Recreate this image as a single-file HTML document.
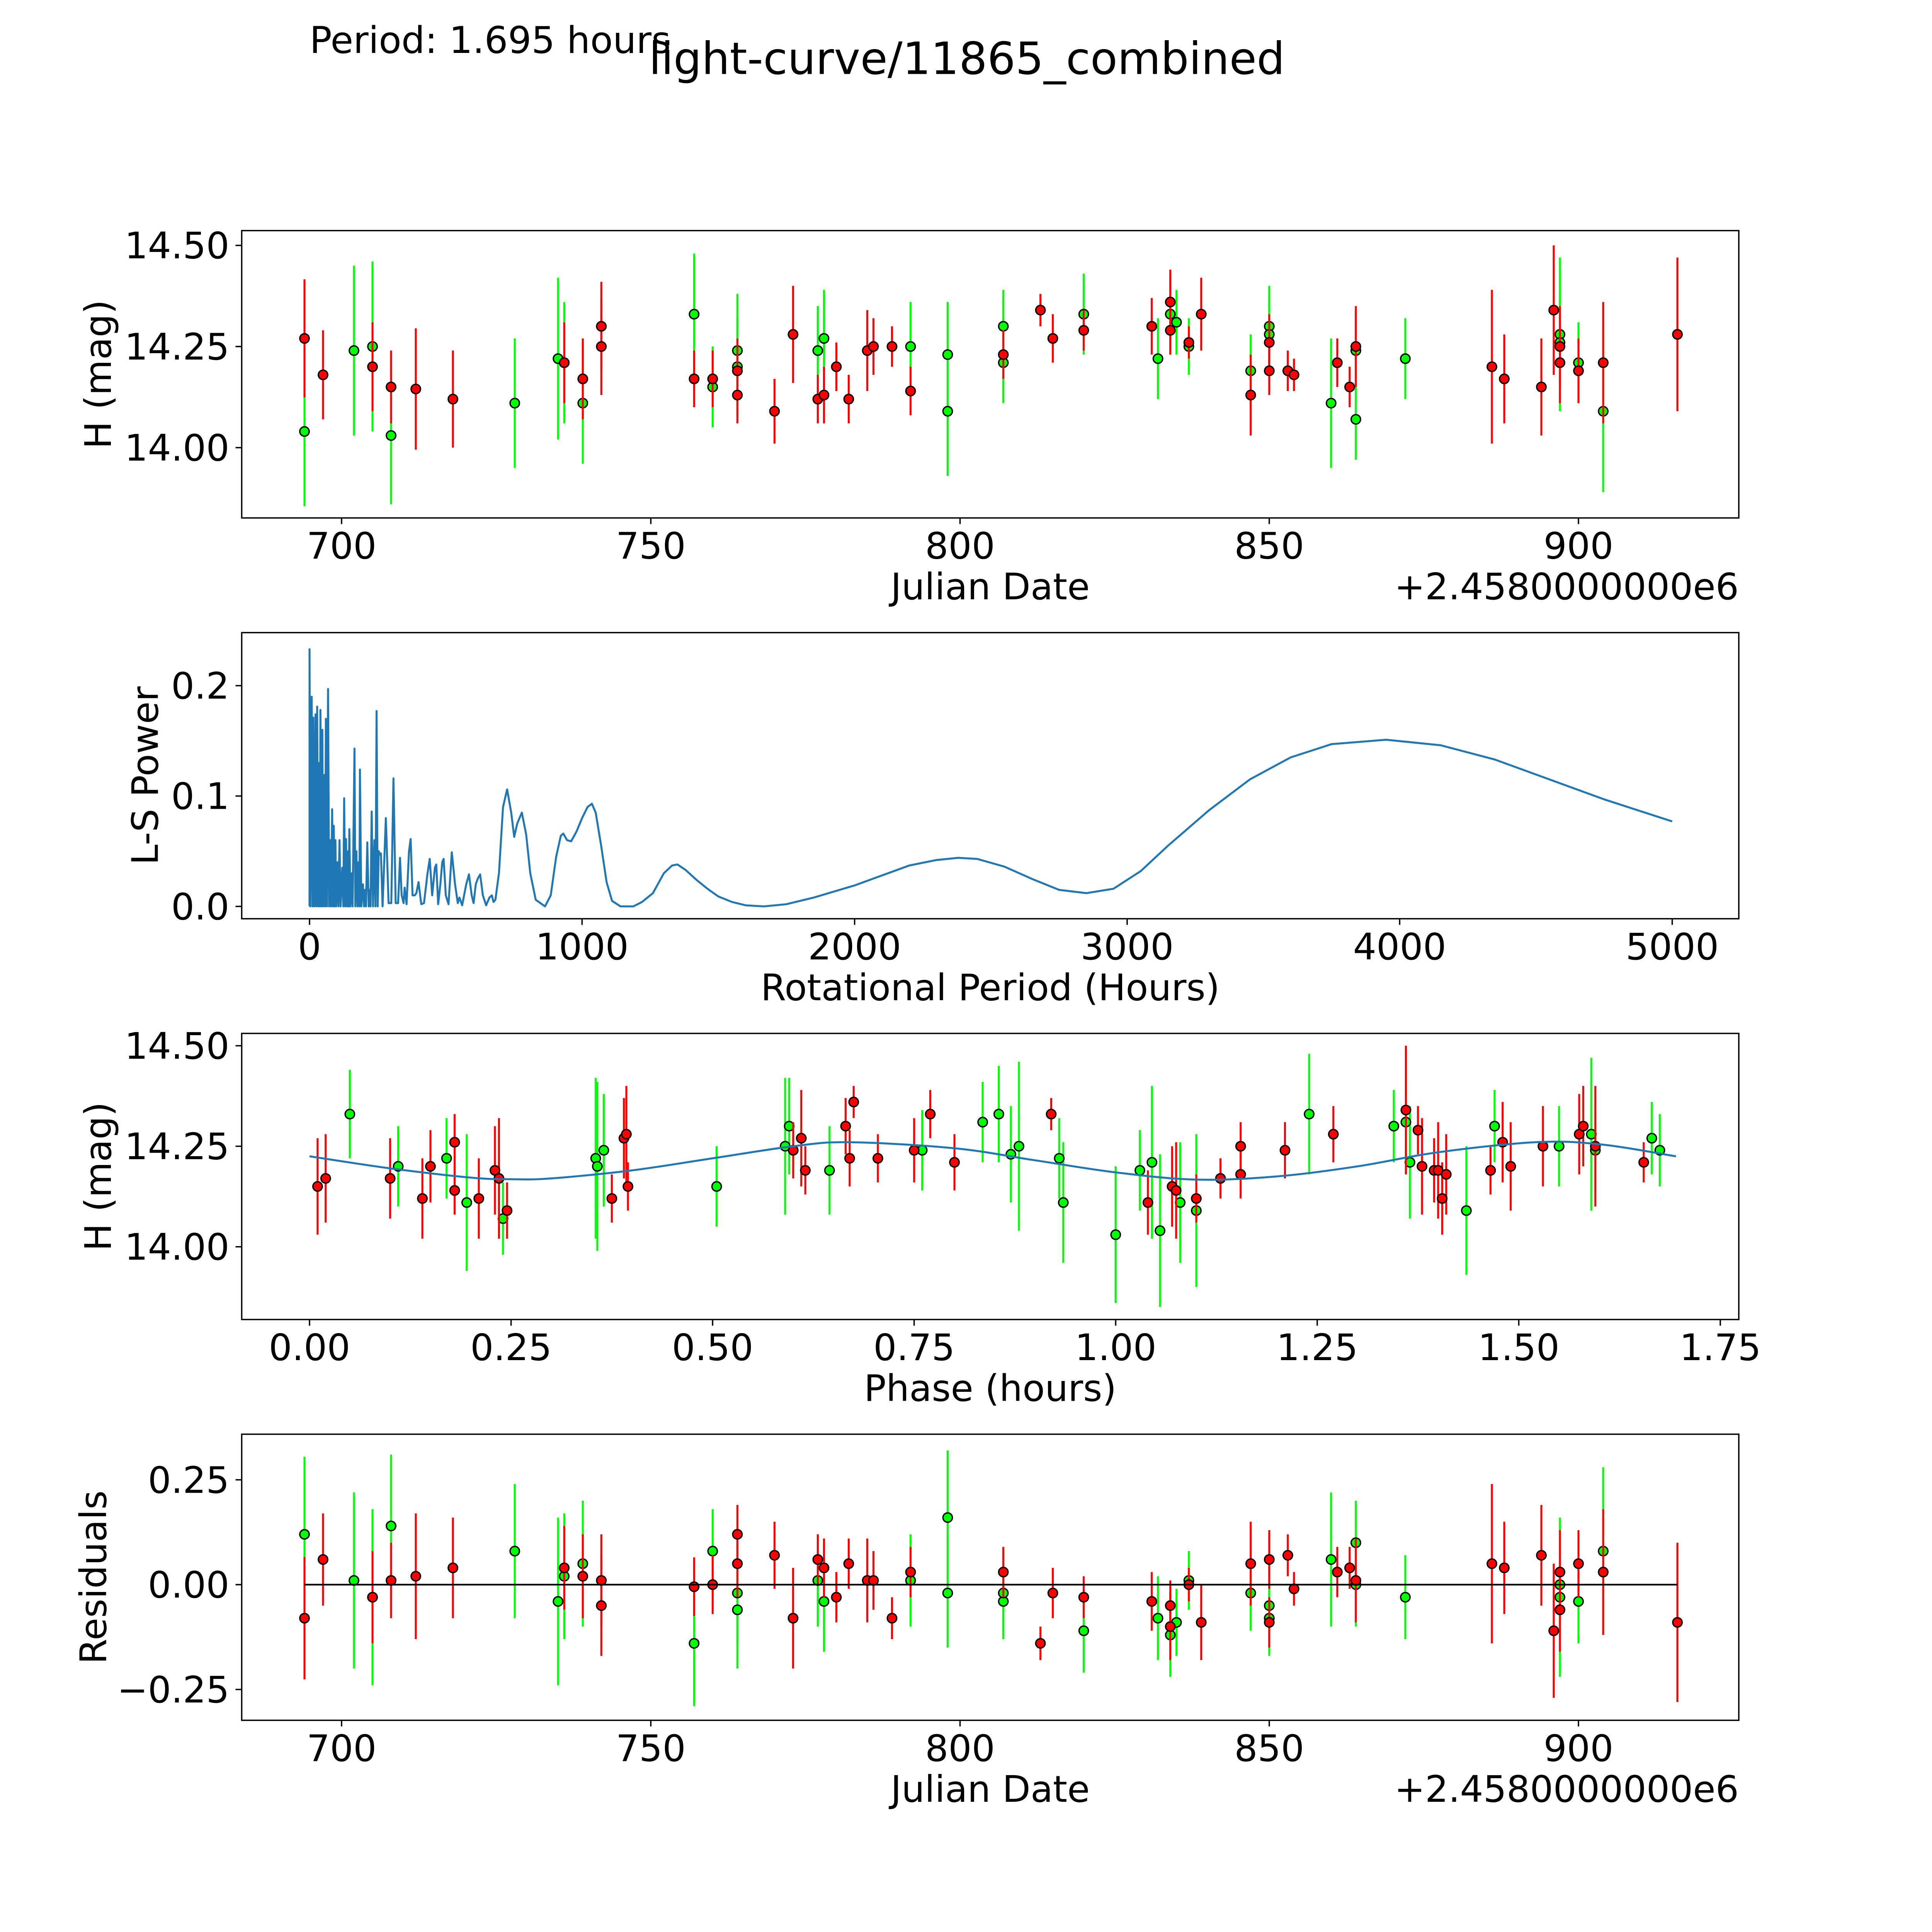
<!DOCTYPE html>
<html><head><meta charset="utf-8">
<style>
html,body{margin:0;padding:0;background:#fff;overflow:hidden;}
svg{display:block;}
text{font-family:"DejaVu Sans","Liberation Sans",sans-serif;fill:#000;}
</style></head>
<body>
<svg id="fig" width="5400" height="5400" viewBox="0 0 1692 1692" xmlns="http://www.w3.org/2000/svg">
<rect x="0" y="0" width="1692" height="1692" fill="#fff"/>
<text x="251" y="43" font-size="30">Period: 1.695 hours</text>
<text x="784" y="60" font-size="36" text-anchor="middle">light-curve/11865_combined</text>
</svg>
<script>
// ---- data: red series (date, mag, err, residual) ----
const redDate=[694,697,705,708,712,718,736,739,742,742,757,760,764,764,770,773,777,778,780,782,785,786,789,792,807,813,815,820,831,834,834,837,839,847,850,850,853,854,861,863,864,886,888,894,896,897,897,900,904,916];
const redMag=[14.27,14.18,14.20,14.15,14.145,14.12,14.21,14.17,14.25,14.30,14.17,14.17,14.19,14.13,14.09,14.28,14.12,14.13,14.20,14.12,14.24,14.25,14.25,14.14,14.23,14.34,14.27,14.29,14.30,14.36,14.29,14.26,14.33,14.13,14.26,14.19,14.19,14.18,14.21,14.15,14.25,14.20,14.17,14.15,14.34,14.21,14.25,14.19,14.21,14.28];
const redErr=[0.146,0.11,0.11,0.09,0.15,0.12,0.10,0.10,0.12,0.11,0.07,0.07,0.08,0.07,0.08,0.12,0.06,0.07,0.06,0.06,0.10,0.07,0.05,0.06,0.06,0.04,0.06,0.05,0.07,0.08,0.06,0.04,0.09,0.10,0.07,0.06,0.05,0.04,0.06,0.05,0.10,0.19,0.11,0.12,0.16,0.10,0.10,0.08,0.15,0.19];
const redResid=[-0.08,0.06,-0.03,0.01,0.02,0.04,0.04,0.02,-0.05,0.01,-0.005,0.0,0.05,0.12,0.07,-0.08,0.06,0.04,-0.03,0.05,0.01,0.01,-0.08,0.03,0.03,-0.14,-0.02,-0.03,-0.04,-0.10,-0.05,0.0,-0.09,0.05,0.06,-0.09,0.07,-0.01,0.03,0.04,0.01,0.05,0.04,0.07,-0.11,-0.06,0.03,0.05,0.03,-0.09];
// ---- data: green series ----
const grnDate=[694,702,705,708,728,735,736,739,757,760,764,764,777,778,792,798,798,807,807,820,832,834,835,837,847,850,850,860,864,864,872,897,897,900,904];
const grnMag=[14.04,14.24,14.25,14.03,14.11,14.22,14.21,14.11,14.33,14.15,14.24,14.20,14.24,14.27,14.25,14.23,14.09,14.30,14.21,14.33,14.22,14.33,14.31,14.25,14.19,14.30,14.28,14.11,14.07,14.24,14.22,14.28,14.26,14.21,14.09];
const grnErr=[0.185,0.21,0.21,0.17,0.16,0.20,0.15,0.15,0.15,0.10,0.14,0.12,0.11,0.12,0.11,0.13,0.16,0.09,0.10,0.10,0.10,0.10,0.08,0.07,0.09,0.10,0.09,0.16,0.10,0.10,0.10,0.19,0.12,0.10,0.20];
const grnResid=[0.12,0.01,-0.03,0.14,0.08,-0.04,0.02,0.05,-0.14,0.08,-0.06,-0.02,0.01,-0.04,0.01,-0.02,0.16,-0.04,-0.02,-0.11,-0.08,-0.12,-0.09,0.01,-0.02,-0.05,-0.08,0.06,0.10,0.0,-0.03,-0.03,0.0,-0.04,0.08];
// ---- data: phase-folded ----
const redPhase=[0.01,0.02,0.10,0.14,0.15,0.18,0.18,0.21,0.23,0.235,0.245,0.375,0.39,0.393,0.395,0.60,0.61,0.615,0.665,0.675,0.67,0.705,0.75,0.77,0.80,0.92,1.04,1.07,1.075,1.10,1.13,1.155,1.155,1.21,1.27,1.36,1.375,1.38,1.395,1.40,1.405,1.41,1.465,1.48,1.49,1.53,1.575,1.58,1.595,1.655];
const redPhaseMag=[14.15,14.17,14.17,14.12,14.20,14.26,14.14,14.12,14.19,14.17,14.09,14.12,14.27,14.28,14.15,14.24,14.27,14.19,14.30,14.36,14.22,14.22,14.24,14.33,14.21,14.33,14.11,14.15,14.14,14.12,14.17,14.18,14.25,14.24,14.28,14.34,14.29,14.20,14.19,14.19,14.12,14.18,14.19,14.26,14.20,14.25,14.28,14.30,14.25,14.21];
const redPhaseErr=[0.12,0.11,0.10,0.10,0.09,0.07,0.06,0.10,0.11,0.15,0.07,0.06,0.10,0.12,0.06,0.07,0.12,0.06,0.07,0.04,0.07,0.06,0.08,0.06,0.07,0.04,0.08,0.10,0.12,0.06,0.05,0.06,0.06,0.07,0.07,0.16,0.06,0.12,0.08,0.12,0.09,0.10,0.06,0.10,0.11,0.10,0.10,0.10,0.15,0.05];
const grnPhase=[0.05,0.11,0.17,0.195,0.24,0.355,0.357,0.365,0.505,0.59,0.595,0.645,0.76,0.835,0.855,0.87,0.88,0.93,0.935,1.00,1.03,1.045,1.055,1.08,1.10,1.24,1.345,1.36,1.365,1.435,1.47,1.55,1.59,1.595,1.665,1.675];
const grnPhaseMag=[14.33,14.20,14.22,14.11,14.07,14.22,14.20,14.24,14.15,14.25,14.30,14.19,14.24,14.31,14.33,14.23,14.25,14.22,14.11,14.03,14.19,14.21,14.04,14.11,14.09,14.33,14.30,14.31,14.21,14.09,14.30,14.25,14.28,14.24,14.27,14.24];
const grnPhaseErr=[0.11,0.10,0.10,0.17,0.09,0.20,0.21,0.14,0.10,0.17,0.12,0.11,0.10,0.10,0.12,0.12,0.21,0.10,0.15,0.17,0.10,0.19,0.19,0.15,0.19,0.15,0.09,0.10,0.14,0.16,0.09,0.10,0.19,0.10,0.09,0.09];
// ---- fitted curve samples (phase, mag) ----
const fitPhase=[0,0.1,0.2,0.25,0.3,0.4,0.5,0.6,0.67,0.8,0.9,1.0,1.1,1.2,1.3,1.4,1.52,1.6,1.695];
const fitMag=[14.225,14.195,14.172,14.168,14.170,14.190,14.220,14.250,14.260,14.245,14.215,14.185,14.167,14.175,14.200,14.235,14.260,14.255,14.225];
// ---- periodogram (period hours, power) ----
const lsPeriod=[0,0,3,8,11,14,18,22,25,28,32,36,38,40,44,47,50,54,57,60,64,68,72,76,79,83,86,89,92,95,98,103,106,110,114,120,124,127,131,134,138,142,144,146,150,155,158,165,168,172,176,180,183,185,190,196,200,204,207,212,217,222,224,228,233,238,242,246,250,254,258,262,268,280,290,300,308,316,325,332,338,345,349,356,365,371,378,386,392,400,410,420,433,441,450,460,465,472,480,487,492,500,510,522,534,544,550,560,575,585,595,602,610,617,626,636,648,660,669,675,682,695,710,725,740,751,762,779,795,810,830,864,885,905,922,931,945,960,980,1000,1020,1036,1050,1070,1090,1110,1141,1188,1220,1260,1300,1330,1350,1380,1420,1460,1500,1550,1600,1667,1750,1850,2000,2100,2200,2300,2380,2450,2550,2650,2750,2850,2950,3050,3150,3300,3450,3600,3750,3950,4150,4350,4550,4750,5000];
const lsPower=[0,0.233,0,0.19,0,0.171,0,0.174,0,0.181,0,0.13,0,0.178,0,0.16,0,0.119,0,0.17,0,0.197,0,0.06,0,0.088,0,0.073,0,0.06,0,0.04,0,0.06,0,0.035,0,0.098,0,0.061,0,0.05,0,0.07,0,0.03,0,0.143,0,0.05,0,0.04,0,0.124,0,0.02,0,0.015,0,0.058,0,0.015,0,0.086,0,0.06,0,0.177,0,0.05,0.047,0.048,0,0.08,0.003,0.003,0.116,0.003,0.003,0.044,0.01,0.003,0.017,0.002,0.05,0.061,0.01,0.01,0.012,0.022,0.002,0.003,0.03,0.043,0.01,0.035,0.038,0.002,0.02,0.04,0.043,0.01,0.002,0.049,0.02,0.003,0.008,0.001,0.02,0.029,0.01,0.003,0.02,0.025,0.029,0.01,0.001,0.008,0.01,0.004,0.006,0.03,0.09,0.106,0.085,0.063,0.075,0.085,0.065,0.03,0.006,0,0.01,0.045,0.064,0.066,0.06,0.059,0.068,0.08,0.09,0.093,0.085,0.055,0.022,0.005,0,0,0.004,0.012,0.03,0.037,0.038,0.033,0.024,0.016,0.009,0.004,0.001,0,0.002,0.008,0.019,0.028,0.037,0.042,0.044,0.043,0.036,0.025,0.015,0.012,0.016,0.032,0.055,0.087,0.115,0.135,0.147,0.151,0.146,0.133,0.115,0.097,0.077];
// ---- tick labels ----
const dateTicks=[700,750,800,850,900];
const magTicks=[14.00,14.25,14.50];
const lsXTicks=[0,1000,2000,3000,4000,5000];
const lsYTicks=[0.0,0.1,0.2];
const phaseTicks=[0,0.25,0.5,0.75,1.0,1.25,1.5,1.75];
const residTicks=[-0.25,0,0.25];

const NS='http://www.w3.org/2000/svg';
const svg=document.getElementById('fig');
function mk(tag,attrs,parent){const e=document.createElementNS(NS,tag);for(const k in attrs)e.setAttribute(k,attrs[k]);(parent||svg).appendChild(e);return e;}
function lin(d0,d1,r0,r1){return v=>r0+(v-d0)*(r1-r0)/(d1-d0);}

const L=196,R=1410,FS=29.7;
function panel(name,top,bot,xs,ys,xt,xfmt,yt,yfmt,xlabel,ylabel,ylabelX,offset){
  const g=mk('g',{});
  
  
  const body=mk('g',{},g);
  const frame=mk('rect',{x:L,y:top,width:R-L,height:bot-top,fill:'none',stroke:'#000','stroke-width':1.1},g);
  
  
  xt.forEach(v=>{const x=xs(v);
    mk('line',{x1:x,x2:x,y1:bot,y2:bot+5,stroke:'#000','stroke-width':1.1},g);
    const t=mk('text',{x:x,y:bot+33,'font-size':FS,'text-anchor':'middle'},g);t.textContent=xfmt(v);
    
    });
  yt.forEach(v=>{const y=ys(v);
    mk('line',{x1:L-5,x2:L,y1:y,y2:y,stroke:'#000','stroke-width':1.1},g);
    const t=mk('text',{x:L-10,y:y+10.5,'font-size':FS,'text-anchor':'end'},g);t.textContent=yfmt(v);
    
    });
  const xl=mk('text',{x:(L+R)/2,y:bot+66,'font-size':FS,'text-anchor':'middle'},g);xl.textContent=xlabel;
  
  
  const cy=(top+bot)/2, tx=ylabelX+10;
  const yl=mk('text',{x:tx,y:cy,'font-size':FS,'text-anchor':'middle',transform:`rotate(-90 ${tx} ${cy})`},g);yl.textContent=ylabel;
  
  
  if(offset){const o=mk('text',{x:R,y:bot+66,'font-size':FS,'text-anchor':'end'},g);o.textContent=offset;
    
    }
  return body;
}
function points(body,xsArr,ysArr,errArr,xs,ys,color,scale){
  xsArr.forEach((d,i)=>{const x=xs(d),y=ys(ysArr[i]),e=errArr[i]*scale;
    const l=mk('line',{x1:x,x2:x,y1:y-e,y2:y+e,stroke:color,'stroke-width':1.6},body);
    
    });
  xsArr.forEach((d,i)=>{const c=mk('circle',{cx:xs(d),cy:ys(ysArr[i]),r:3.8,fill:color,stroke:'#000','stroke-width':1.1},body);
    
    });
}
const f2=v=>v.toFixed(2);
// Panel 1
const xD=lin(700,900,277,1280);
const y1=lin(14.0,14.5,363,199);
const p1=panel('light-curve-panel',187,420,xD,y1,dateTicks,v=>String(v),magTicks,f2,'Julian Date','H (mag)',80,'+2.4580000000e6');
points(p1,grnDate,grnMag,grnErr,xD,y1,'#00ff00',328);
points(p1,redDate,redMag,redErr,xD,y1,'#ff0000',328);
// Panel 2
const xL=lin(0,5000,251,1356);
const y2=lin(0,0.2,735,556);
const p2=panel('periodogram-panel',513,745,xL,y2,lsXTicks,v=>String(v),lsYTicks,v=>v.toFixed(1),'Rotational Period (Hours)','L-S Power',118);
let dLS=lsPeriod.map((p,i)=>(i?'L':'M')+xL(p).toFixed(2)+','+y2(lsPower[i]).toFixed(2)).join('');
const ls=mk('path',{d:dLS,fill:'none',stroke:'#1f77b4','stroke-width':1.6,'stroke-linejoin':'round'},p2);


// Panel 3
const xP=lin(0,1.75,251,1395);
const y3=lin(14.0,14.5,1011,848);
const p3=panel('phase-folded-panel',838,1070,xP,y3,phaseTicks,f2,magTicks,f2,'Phase (hours)','H (mag)',80);
points(p3,grnPhase,grnPhaseMag,grnPhaseErr,xP,y3,'#00ff00',326);
points(p3,redPhase,redPhaseMag,redPhaseErr,xP,y3,'#ff0000',326);
(function(){const pts=fitPhase.map((p,i)=>[xP(p),y3(fitMag[i])]);let d='M'+pts[0][0]+','+pts[0][1];
 for(let i=0;i<pts.length-1;i++){const p0=pts[Math.max(0,i-1)],p1=pts[i],p2=pts[i+1],p3=pts[Math.min(pts.length-1,i+2)];
  const c1=[p1[0]+(p2[0]-p0[0])/6,p1[1]+(p2[1]-p0[1])/6],c2=[p2[0]-(p3[0]-p1[0])/6,p2[1]-(p3[1]-p1[1])/6];
  d+=`C${c1[0]},${c1[1]} ${c2[0]},${c2[1]} ${p2[0]},${p2[1]}`;}
 const fit=mk('path',{d:d,fill:'none',stroke:'#1f77b4','stroke-width':1.6},p3);
 
 })();
// Panel 4
const y4=lin(0,0.25,1285,1200);
const p4=panel('residuals-panel',1163,1395,xD,y4,dateTicks,v=>String(v),residTicks,v=>(v<0?'\u2212':'')+Math.abs(v).toFixed(2),'Julian Date','Residuals',76,'+2.4580000000e6');
points(p4,grnDate,grnResid,grnErr,xD,y4,'#00ff00',340);
points(p4,redDate,redResid,redErr,xD,y4,'#ff0000',340);
const allDates=redDate.concat(grnDate);
const zl=mk('line',{x1:xD(Math.min(...allDates)),x2:xD(Math.max(...allDates)),y1:y4(0),y2:y4(0),stroke:'#000','stroke-width':1.4},p4);


</script>
</body></html>
